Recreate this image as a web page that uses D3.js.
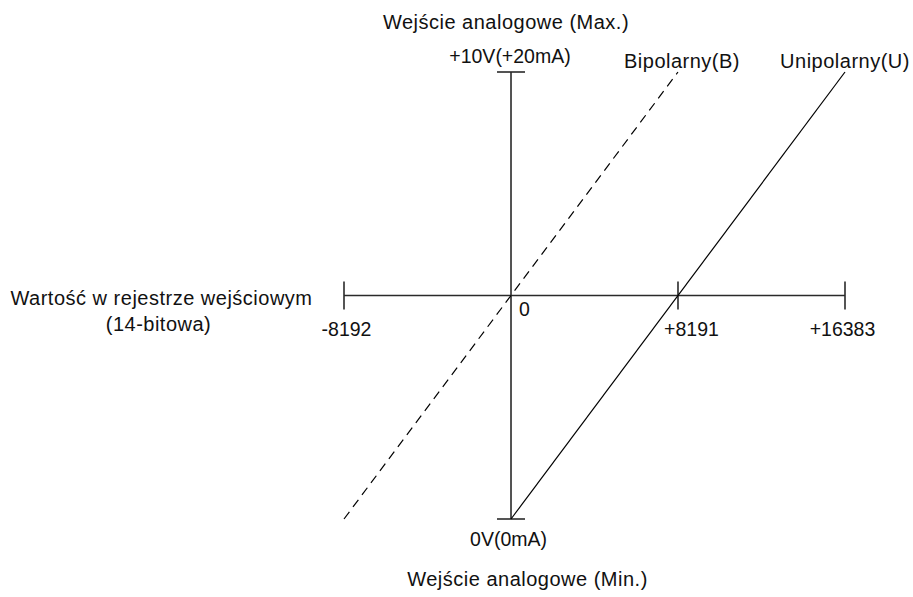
<!DOCTYPE html>
<html>
<head>
<meta charset="utf-8">
<script src="https://cdn.jsdelivr.net/npm/d3@7"></script>
<style>
  body { margin: 0; background: #fff; }
  text { font-family: "Liberation Sans", Arial, sans-serif; fill: #111; }
  .word { font-size: 20px; letter-spacing: 0.5px; }
  .num { font-size: 19.5px; }
</style>
</head>
<body>
<div id="container"></div>
<script>
let w = 913;
let h = 597;

// register values (x) and input as % of full scale (y)
let xDomain = [-8192, 16383];
let xTickValues = [-8192, 8191, 16383];
let xTickLabels = ["-8192", "+8191", "+16383"];
let yDomain = [0, 100];
let uniX = [0, 16383];
let uniY = [0, 100];
let biX = [-8192, 8191];
let biY = [0, 100];

let viz = d3.select("#container").append("svg")
  .attr("width", w)
  .attr("height", h);

let x = d3.scaleLinear().domain(xDomain).range([344, 845]);
let y = d3.scaleLinear().domain(yDomain).range([519, 72]);

let axisColor = "#2a2a2a";

// horizontal axis
viz.append("line")
  .attr("x1", x(xDomain[0])).attr("x2", x(xDomain[1]))
  .attr("y1", y(50)).attr("y2", y(50))
  .attr("stroke", axisColor).attr("stroke-width", 1.6);

viz.selectAll(".xtick").data(xTickValues).enter()
  .append("line")
  .attr("class", "xtick")
  .attr("x1", d => x(d)).attr("x2", d => x(d))
  .attr("y1", y(50) - 14).attr("y2", y(50) + 14)
  .attr("stroke", axisColor).attr("stroke-width", 1.6);

// vertical axis
viz.append("line")
  .attr("x1", x(0)).attr("x2", x(0))
  .attr("y1", y(yDomain[0])).attr("y2", y(yDomain[1]))
  .attr("stroke", axisColor).attr("stroke-width", 1.6);

viz.selectAll(".ytick").data(yDomain).enter()
  .append("line")
  .attr("class", "ytick")
  .attr("x1", x(0) - 14).attr("x2", x(0) + 14)
  .attr("y1", d => y(d)).attr("y2", d => y(d))
  .attr("stroke", axisColor).attr("stroke-width", 1.6);

let line = d3.line().x(d => x(d[0])).y(d => y(d[1]));

// unipolar
viz.append("path")
  .attr("d", line(d3.zip(uniX, uniY)))
  .attr("fill", "none").attr("stroke", "#000").attr("stroke-width", 1.2);

// bipolar (dashed)
viz.append("path")
  .attr("d", line(d3.zip(biX, biY)))
  .attr("fill", "none").attr("stroke", "#000").attr("stroke-width", 1.2)
  .attr("stroke-dasharray", "9,6");

// tick labels
let labelShift = [2.5, 13.5, -2.5];
viz.selectAll(".xlab").data(xTickValues).enter()
  .append("text")
  .attr("class", "num")
  .attr("x", (d, i) => x(d) + labelShift[i])
  .attr("y", 336)
  .attr("text-anchor", "middle")
  .text((d, i) => xTickLabels[i]);

viz.append("text").attr("class", "num").attr("x", x(0) + 8).attr("y", 316).text("0");

viz.append("text").attr("class", "num").attr("x", 510).attr("y", 63)
  .attr("text-anchor", "middle").text("+10V(+20mA)");
viz.append("text").attr("class", "num").attr("x", 508.5).attr("y", 546)
  .attr("text-anchor", "middle").text("0V(0mA)");

viz.append("text").attr("class", "word").attr("x", 506).attr("y", 29)
  .attr("text-anchor", "middle").text("Wejście analogowe (Max.)");
viz.append("text").attr("class", "word").attr("x", 527.5).attr("y", 586)
  .attr("text-anchor", "middle").text("Wejście analogowe (Min.)");

viz.append("text").attr("class", "word").attr("x", 682).attr("y", 68)
  .attr("text-anchor", "middle").text("Bipolarny(B)");
viz.append("text").attr("class", "word").attr("x", 845).attr("y", 68)
  .attr("text-anchor", "middle").text("Unipolarny(U)");

viz.append("text").attr("class", "word").attr("x", 161.5).attr("y", 305)
  .attr("text-anchor", "middle").text("Wartość w rejestrze wejściowym");
viz.append("text").attr("class", "word").attr("x", 158.5).attr("y", 331)
  .attr("text-anchor", "middle").text("(14-bitowa)");
</script>
</body>
</html>
